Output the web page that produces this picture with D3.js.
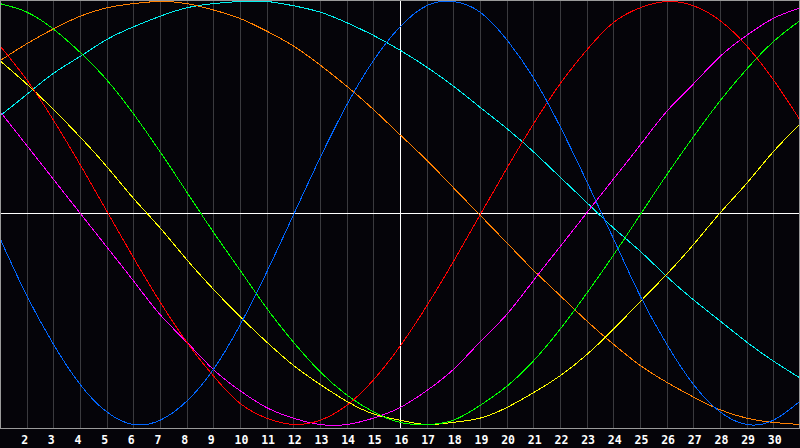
<!DOCTYPE html>
<html>
<head>
<meta charset="utf-8">
<script src="https://cdn.jsdelivr.net/npm/d3@7"></script>
<style>
  html, body { margin: 0; padding: 0; background: #050409; }
  svg { display: block; }
</style>
</head>
<body>
<div id="container"></div>
<script>
// days along the bottom (day 1 at the left edge, day 31 at the right edge)
const days = d3.range(1, 32);
const tickDays = d3.range(2, 31);

// cycle values, -100..100, one per day
const physical     = [-12,-39,-62,-81,-94,-100,-98,-89,-74,-53,-28,-1,26,51,72,88,98,100,95,82,64,41,15,-12,-39,-62,-81,-94,-100,-98,-89];
const emotional    = [79,63,44,23,1,-21,-42,-61,-77,-90,-97,-100,-98,-91,-79,-63,-44,-23,-1,21,42,61,77,90,97,100,98,91,79,63,44];
const intellectual = [99,95,87,76,63,47,29,10,-9,-27,-45,-61,-75,-86,-94,-99,-100,-98,-91,-82,-70,-55,-38,-20,-1,18,36,53,68,81,91];
const intuitive    = [48,32,16,0,-16,-32,-48,-61,-74,-84,-92,-97,-100,-100,-97,-92,-84,-74,-61,-48,-32,-16,0,16,32,48,61,74,84,92,97];
const aesthetic    = [72,61,49,36,22,7,-7,-22,-36,-49,-61,-72,-81,-89,-95,-98,-100,-99,-97,-92,-85,-77,-67,-55,-42,-29,-15,0,14,29,42];
const awareness    = [72,80,87,93,97,99,100,99,96,92,86,79,70,60,49,37,25,12,-1,-14,-27,-39,-51,-62,-72,-80,-87,-93,-97,-99,-100];
const spiritual    = [46,56,66,74,82,88,93,97,99,100,100,98,95,90,84,77,69,60,50,40,29,17,5,-7,-18,-30,-41,-51,-61,-70,-78];

const series = [
  {name: "spiritual", values: spiritual, color: "#00f0f0"},
  {name: "awareness", values: awareness, color: "#ff8000"},
  {name: "aesthetic", values: aesthetic, color: "#ffff00"},
  {name: "intuitive", values: intuitive, color: "#ff00ff"},
  {name: "intellectual", values: intellectual, color: "#00ff00"},
  {name: "emotional", values: emotional, color: "#ff0000"},
  {name: "physical", values: physical, color: "#0066ff"}
];

const width = 800;
const height = 448;
const plotBottom = 428;

const x = d3.scaleLinear().domain([1, 31]).range([0, width]);
const y = d3.scaleLinear().domain([-100, 100]).range([424.5, 1.5]);

const svg = d3.select("#container").append("svg")
    .attr("width", width)
    .attr("height", height)
    .attr("viewBox", [0, 0, width, height]);

svg.append("rect")
    .attr("width", width)
    .attr("height", height)
    .attr("fill", "#050409");

// day grid
svg.append("g")
    .attr("stroke", "#3a3a3e")
    .attr("shape-rendering", "crispEdges")
    .selectAll("line")
    .data(tickDays.filter(d => d !== 16))
    .join("line")
    .attr("x1", d => Math.round(x(d)) + 0.5)
    .attr("x2", d => Math.round(x(d)) + 0.5)
    .attr("y1", 0)
    .attr("y2", plotBottom);

// centre cross
svg.append("line")
    .attr("x1", 0).attr("x2", width)
    .attr("y1", Math.round(y(0)) + 0.5).attr("y2", Math.round(y(0)) + 0.5)
    .attr("stroke", "#ffffff")
    .attr("shape-rendering", "crispEdges");
svg.append("line")
    .attr("x1", Math.round(x(16)) + 0.5).attr("x2", Math.round(x(16)) + 0.5)
    .attr("y1", 0).attr("y2", plotBottom)
    .attr("stroke", "#ffffff")
    .attr("shape-rendering", "crispEdges");

// curves
const line = d3.line()
    .x((v, i) => x(days[i]))
    .y(v => y(v))
    .curve(d3.curveNatural);

svg.append("g")
    .attr("fill", "none")
    .attr("stroke-width", 1)
    .attr("shape-rendering", "crispEdges")
    .selectAll("path")
    .data(series)
    .join("path")
    .attr("stroke", d => d.color)
    .attr("d", d => line(d.values));

// frame
svg.append("rect")
    .attr("x", 0.5).attr("y", 0.5)
    .attr("width", width - 1).attr("height", plotBottom)
    .attr("fill", "none")
    .attr("stroke", "#9a9a9a")
    .attr("shape-rendering", "crispEdges");

// day labels
svg.append("g")
    .attr("transform", `translate(0,${plotBottom})`)
    .call(d3.axisBottom(x).tickValues(tickDays).tickSize(0).tickFormat(d3.format("d")))
    .call(g => g.select(".domain").remove())
    .call(g => g.selectAll("text")
        .attr("fill", "#ffffff")
        .attr("text-anchor", "start")
        .attr("dx", -6)
        .attr("y", 15.5)
        .attr("dy", 0)
        .attr("font-family", "DejaVu Sans Mono")
        .attr("font-weight", "bold")
        .attr("font-size", 11.5));
</script>
</body>
</html>
